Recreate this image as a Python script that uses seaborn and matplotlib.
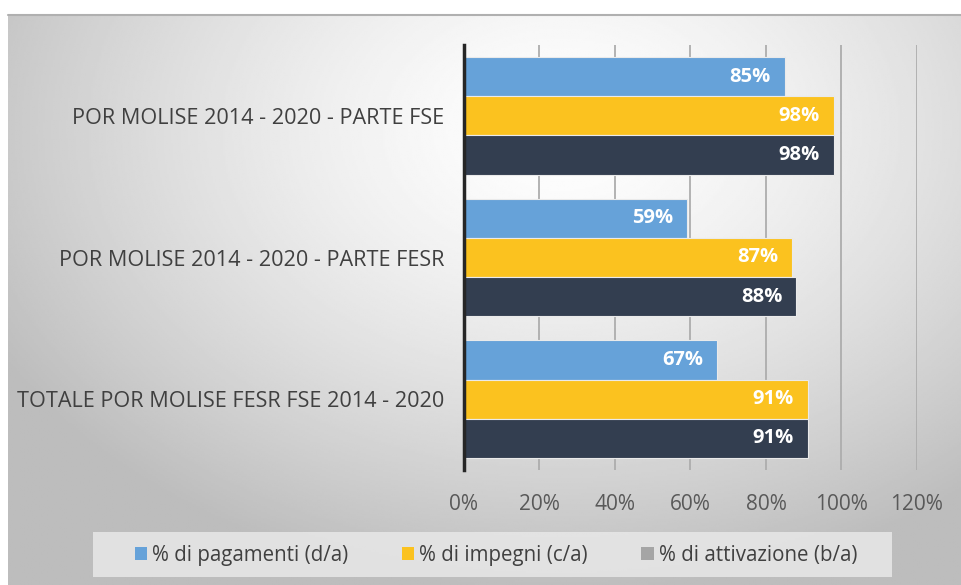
import numpy as np
import pandas as pd
import seaborn as sns
import matplotlib.pyplot as plt
from matplotlib.patches import Patch, Rectangle

# dati
categorie = ["POR MOLISE 2014 - 2020 - PARTE FSE",
             "POR MOLISE 2014 - 2020 - PARTE FESR",
             "TOTALE POR MOLISE FESR FSE 2014 - 2020"]
serie = ["% di pagamenti (d/a)", "% di impegni (c/a)", "% di attivazione (b/a)"]
pagamenti = [0.85, 0.59, 0.67]
impegni = [0.98, 0.87, 0.91]
attivazione = [0.98, 0.88, 0.91]
tick_x = [0, 0.2, 0.4, 0.6, 0.8, 1.0, 1.2]
tick_lbl = ["0%", "20%", "40%", "60%", "80%", "100%", "120%"]

colori = ["#66a2d9", "#fbc21f", "#333e50"]
colori_legenda = ["#66a2d9", "#fbc21f", "#a5a5a5"]

df = pd.DataFrame({
    "categoria": categorie * 3,
    "serie": [serie[0]] * 3 + [serie[1]] * 3 + [serie[2]] * 3,
    "valore": pagamenti + impegni + attivazione,
})

sns.set_style("white")
plt.rcParams["font.family"] = ["Open Sans", "DejaVu Sans"]

W, H = 962, 585
fig = plt.figure(figsize=(W / 100, H / 100), dpi=100)
fig.patch.set_facecolor("white")

# sfondo sfumato (solo stile)
bg = fig.add_axes([8 / W, 0, 1 - 8 / W, 1 - 15 / H])
yy, xx = np.mgrid[0:1:300j, 0:1:500j]
r = np.sqrt(((xx - 0.58) / 0.75) ** 2 + ((yy - 0.2) / 0.9) ** 2)
g = np.clip(1 - 0.3 * r ** 1.4, 0.74, 1)
bg.imshow(g, cmap="gray", vmin=0, vmax=1, aspect="auto", extent=[0, 1, 1, 0])
bg.set_axis_off()
fig.add_artist(plt.Line2D([8 / W, 1], [1 - 15 / H, 1 - 15 / H], color="#b0b0b0", lw=1.5))

ax = fig.add_axes([464 / W, 1 - 470 / H, (917 - 464) / W, (470 - 45) / H])
ax.set_facecolor("none")
sns.barplot(data=df, y="categoria", x="valore", hue="serie", orient="h",
            palette=colori, saturation=1, width=0.83, edgecolor="#eaeaea",
            linewidth=0.8, legend=False, ax=ax, zorder=3)

ax.set_xlim(0, 1.2)
ax.set_ylim(2.5, -0.5)
ax.set_xticks(tick_x)
ax.set_xticklabels(tick_lbl, fontsize=15, color="#595959")
ax.tick_params(axis="x", length=0, pad=17)
ax.tick_params(axis="y", length=0, pad=14, labelsize=15.6, labelcolor="#404040")
ax.set_xlabel("")
ax.set_ylabel("")
for x in tick_x[1:]:
    ax.axvline(x, color="#adadad", lw=1.3, zorder=1)
for s in ["top", "right", "bottom"]:
    ax.spines[s].set_visible(False)
ax.spines["left"].set_color("#262626")
ax.spines["left"].set_linewidth(2.5)
ax.spines["left"].set_zorder(5)

for cont in ax.containers:
    lbls = ax.bar_label(cont, labels=[f"{v * 100:.0f}%" for v in cont.datavalues],
                        padding=-10, color="white", fontsize=14.5, fontweight="bold")
    for t in lbls:
        t.set_ha("right")

# riquadro legenda
fig.add_artist(Rectangle((93 / W, 1 - 577 / H), (892 - 93) / W, 45 / H,
                         transform=fig.transFigure, facecolor="#e8e8e8",
                         edgecolor="none", alpha=0.85))
handles = [Patch(facecolor=c, edgecolor="none") for c in colori_legenda]
leg = fig.legend(handles, serie, loc="center", bbox_to_anchor=(496 / W, 1 - 555 / H),
                 ncol=3, frameon=False, fontsize=14.8, handlelength=0.6, handleheight=0.6,
                 handletextpad=0.25, columnspacing=2.6, borderaxespad=0)
for t in leg.get_texts():
    t.set_color("#404040")

fig.savefig("out.png", dpi=100)
